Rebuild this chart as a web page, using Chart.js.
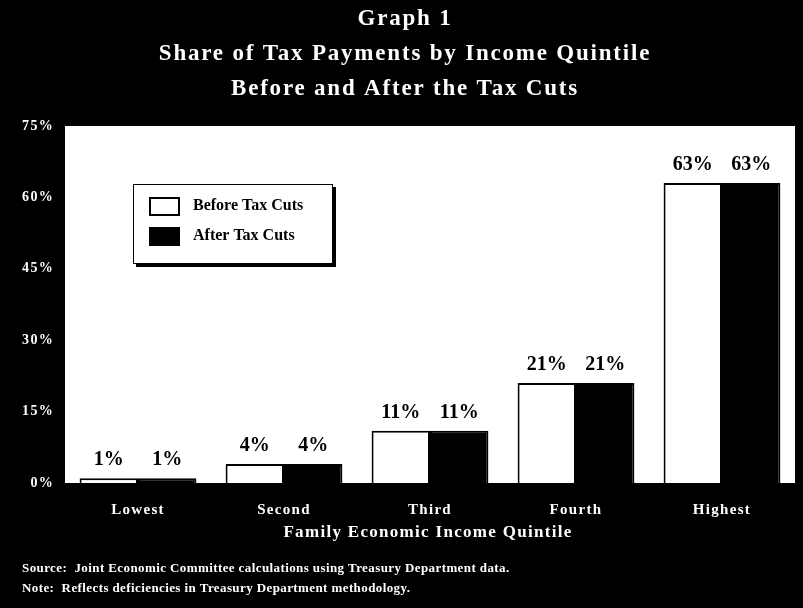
<!DOCTYPE html>
<html>
<head>
<meta charset="utf-8">
<title>Share of Tax Payments by Income Quintile</title>
<script src="https://cdn.jsdelivr.net/npm/chart.js@4.4.0/dist/chart.umd.min.js"></script>
<style>
  html, body { margin: 0; padding: 0; background: #000; }
  canvas { display: block; }
</style>
</head>
<body>
<canvas id="myChart" width="803" height="608"></canvas>
<script>
  // Quintiles and share of tax payments (%)
  var quintiles = ['Lowest', 'Second', 'Third', 'Fourth', 'Highest'];
  var beforeCuts = [1, 4, 11, 21, 63];
  var afterCuts = [1, 4, 11, 21, 63];
  var yTicks = [0, 15, 30, 45, 60, 75];

  var titleLines = ['Graph 1', 'Share of Tax Payments by Income Quintile', 'Before and After the Tax Cuts'];
  var xTitle = 'Family Economic Income Quintile';
  var notes = [
    'Source:  Joint Economic Committee calculations using Treasury Department data.',
    'Note:  Reflects deficiencies in Treasury Department methodology.'
  ];

  var serif = '"Liberation Serif", "Times New Roman", serif';

  // black frame, white plot area, titles and footnotes
  var framePlugin = {
    id: 'frame',
    beforeDraw: function (chart) {
      var c = chart.ctx, a = chart.chartArea;
      c.save();
      c.fillStyle = '#000';
      c.fillRect(0, 0, chart.width, chart.height);
      c.fillStyle = '#fff';
      c.fillRect(a.left, a.top, a.right - a.left, a.bottom - a.top);
      c.restore();
      // wider tracking for the axis tick labels
      c.letterSpacing = '1.3px';
    },
    beforeDatasetsDraw: function (chart) {
      chart.ctx.letterSpacing = '0px';
    },
    afterDraw: function (chart) {
      var c = chart.ctx;
      c.save();
      c.fillStyle = '#fff';
      c.textAlign = 'center';
      c.textBaseline = 'middle';
      c.font = 'bold 23px ' + serif;
      c.letterSpacing = '1.8px';
      c.fillText(titleLines[0], 405, 19);
      c.fillText(titleLines[1], 405, 54);
      c.fillText(titleLines[2], 405, 89);

      c.font = 'bold 17px ' + serif;
      c.letterSpacing = '1.3px';
      c.fillText(xTitle, 428, 533);

      c.textAlign = 'left';
      c.font = 'bold 13px ' + serif;
      c.letterSpacing = '0.4px';
      c.fillText(notes[0], 22, 569);
      c.fillText(notes[1], 22, 589);
      c.restore();
      c.letterSpacing = '0px';
    }
  };

  // value labels above each bar
  var valueLabels = {
    id: 'valueLabels',
    afterDatasetsDraw: function (chart) {
      var c = chart.ctx;
      c.save();
      c.fillStyle = '#000';
      c.font = 'bold 20px ' + serif;
      c.textAlign = 'center';
      c.textBaseline = 'alphabetic';
      chart.data.datasets.forEach(function (ds, i) {
        chart.getDatasetMeta(i).data.forEach(function (bar, j) {
          c.fillText(ds.data[j] + '%', bar.x, bar.y - 13);
        });
      });
      c.restore();
    }
  };

  // boxed legend with drop shadow inside the plot
  var boxLegend = {
    id: 'boxLegend',
    afterDraw: function (chart) {
      var c = chart.ctx, a = chart.chartArea;
      var x = a.left + 68, y = a.top + 58, w = 200, h = 80;
      c.save();
      c.fillStyle = '#000';
      c.fillRect(x + 3, y + 3, w, h);
      c.fillStyle = '#fff';
      c.fillRect(x, y, w, h);
      c.strokeStyle = '#000';
      c.lineWidth = 1;
      c.strokeRect(x + 0.5, y + 0.5, w - 1, h - 1);
      c.font = 'bold 16px ' + serif;
      c.textBaseline = 'middle';
      chart.data.datasets.forEach(function (ds, i) {
        var by = y + 14 + i * 30;
        c.fillStyle = ds.backgroundColor;
        c.fillRect(x + 17, by, 29, 17);
        c.lineWidth = 2;
        c.strokeRect(x + 17, by, 29, 17);
        c.fillStyle = '#000';
        c.fillText(ds.label, x + 60, by + 8);
      });
      c.restore();
    }
  };

  var ctx = document.getElementById('myChart').getContext('2d');

  var data = {
    labels: quintiles,
    datasets: [{
      label: 'Before Tax Cuts',
      data: beforeCuts,
      backgroundColor: '#fff',
      borderColor: '#000',
      borderWidth: 2,
      categoryPercentage: 0.8,
      barPercentage: 1.0
    }, {
      label: 'After Tax Cuts',
      data: afterCuts,
      backgroundColor: '#000',
      borderColor: '#000',
      borderWidth: 2,
      categoryPercentage: 0.8,
      barPercentage: 1.0
    }]
  };

  var options = {
    responsive: false,
    animation: false,
    devicePixelRatio: 1,
    layout: { padding: { top: 126, right: 8, left: 0, bottom: 0 } },
    plugins: {
      legend: { display: false },
      title: { display: false },
      tooltip: { enabled: false }
    },
    scales: {
      x: {
        grid: { display: false, drawTicks: false },
        border: { display: false },
        ticks: {
          color: '#fff',
          padding: 18,
          font: { family: serif, size: 15, weight: 'bold' }
        },
        afterFit: function (scale) { scale.height = 125; }
      },
      y: {
        min: 0,
        max: 75,
        grid: { display: false, drawTicks: false },
        border: { display: false },
        afterBuildTicks: function (scale) {
          scale.ticks = yTicks.map(function (v) { return { value: v }; });
        },
        ticks: {
          color: '#fff',
          padding: 11,
          font: { family: serif, size: 14, weight: 'bold' },
          callback: function (v) { return v + '%'; }
        },
        afterFit: function (scale) { scale.width = 65; }
      }
    }
  };

  var chart = new Chart(ctx, {
    type: 'bar',
    data: data,
    options: options,
    plugins: [framePlugin, valueLabels, boxLegend]
  });
</script>
</body>
</html>
